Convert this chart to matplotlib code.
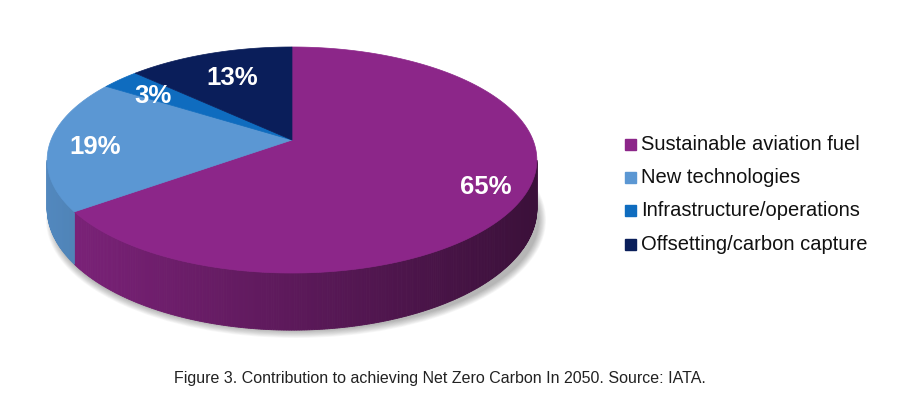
import numpy as np
import matplotlib.pyplot as plt
from matplotlib.patches import Rectangle, Ellipse
from matplotlib.colors import to_rgb

plt.rcParams["font.family"] = ["Liberation Sans", "DejaVu Sans"]

labels = ["Sustainable aviation fuel", "New technologies",
          "Infrastructure/operations", "Offsetting/carbon capture"]
shares = [65, 19, 3, 13]
pct_text = ["65%", "19%", "3%", "13%"]
top_colors = ["#8c2689", "#5b97d3", "#0f6cbf", "#0a1e5a"]
caption = "Figure 3. Contribution to achieving Net Zero Carbon In 2050. Source: IATA."

# pie geometry (pixels) with a simple perspective tilt
cx, cy = 292, 140      # projected centre of the top face
sx = 241               # horizontal scale
py, pr = -84.7, 0.177  # vertical projection terms
depth = 47
label_pos = [(486, 187), (95, 147), (153, 96), (232, 78)]


def proj(theta_deg, drop=0.0):
    t = np.radians(theta_deg)
    X, Z = np.cos(t), np.sin(t)
    w = 1 + pr * Z
    return cx + sx * X / w, (py * Z + cy) / w + drop / w


fig = plt.figure(figsize=(9.04, 3.97), dpi=100)
ax = fig.add_axes([0, 0, 1, 1])
ax.set_xlim(0, 904)
ax.set_ylim(397, 0)
ax.axis("off")

# soft shadow hugging the lower rim
for k in range(10):
    ax.add_patch(Ellipse((cx + 4, 220), 2 * 245 + 10 - k * 1.6,
                         2 * 113 + 10 - k * 1.6, color="black",
                         alpha=0.03, lw=0, zorder=0))

# wedge angle ranges, clockwise from 90 degrees
spans = []
start = 90.0
for v in shares:
    sweep = 360.0 * v / sum(shares)
    spans.append((start - sweep, start))
    start -= sweep

# side walls (visible front part only)
edge = np.degrees(np.arcsin(pr))
x_left, _ = proj(180 + edge)
x_right, _ = proj(360 - edge)
for (t0, t1), col in zip(spans, top_colors):
    base = np.array(to_rgb(col))
    for shift in (0, 360):
        lo, hi = max(t0 + shift, 180 + edge), min(t1 + shift, 360 - edge)
        if lo >= hi:
            continue
        ts = np.linspace(lo, hi, int((hi - lo) * 2) + 2)
        for a0, a1 in zip(ts[:-1], ts[1:]):
            x0, y0 = proj(a0)
            x1, y1 = proj(a1)
            _, b0 = proj(a0, depth)
            _, b1 = proj(a1, depth)
            frac = ((x0 + x1) / 2 - x_left) / (x_right - x_left)
            f = 0.9 - 0.48 * frac
            ax.fill([x0, x1, x1, x0], [y0, y1, b1, b0],
                    color=base * f, lw=0.6, ec=base * f, zorder=2)

# top faces
for (t0, t1), col in zip(spans, top_colors):
    ts = np.linspace(t0, t1, 200)
    xs, ys = proj(ts)
    ax.fill(np.r_[cx, xs], np.r_[cy, ys],
            color=col, lw=0.5, ec=col, zorder=3)

for (x, y), t in zip(label_pos, pct_text):
    ax.text(x, y, t, color="white", fontsize=18.5, fontweight="bold",
            ha="center", va="center", zorder=5)

# legend
for i, (lab, col) in enumerate(zip(labels, top_colors)):
    yy = 144 + i * 33.4
    ax.add_patch(Rectangle((625, yy - 5.5), 11, 11, color=col, zorder=4))
    ax.text(641, yy, lab, fontsize=14.5, color="#111111",
            ha="left", va="center")

ax.text(440, 378, caption, fontsize=11.5, color="#222222",
        ha="center", va="center")

fig.savefig("out.png", dpi=100)
